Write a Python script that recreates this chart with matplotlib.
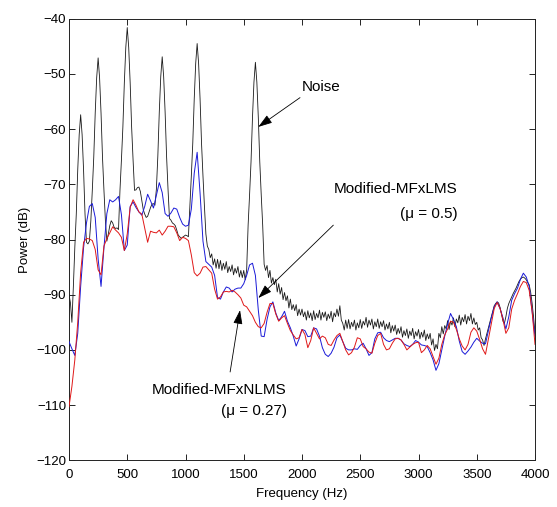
import numpy as np
import matplotlib
matplotlib.use("Agg")
import matplotlib.pyplot as plt

plt.rcParams['font.family'] = ['Liberation Sans', 'DejaVu Sans']

# ---------------- data ----------------
# Noise (black) spectrum, sampled every 12.5 Hz from 0 to 4000 Hz
noise_step = 12.5
noise_db = [
    -90.0, -91.5, -95.0, -88.5, -81.4, -75.4, -67.4, -61.0,      # 0
    -57.4, -61.0, -67.4, -75.4, -80.5, -80.8, -80.3, -76.6,      # 100
    -71.1, -65.1, -57.1, -50.7, -47.1, -50.7, -57.1, -65.1,      # 200
    -71.1, -76.6, -80.3, -79.0, -77.5, -76.6, -77.0, -77.8,      # 300
    -78.0, -77.9, -78.2, -71.1, -65.6, -59.6, -51.6, -45.2,      # 400
    -41.6, -45.2, -51.6, -59.6, -65.6, -71.1, -71.0, -70.6,      # 500
    -70.5, -71.3, -73.0, -74.6, -75.4, -76.0, -75.8, -75.0,      # 600
    -74.2, -73.6, -73.5, -73.8, -70.9, -64.9, -56.9, -50.5,      # 700
    -46.9, -50.5, -56.9, -64.9, -70.9, -76.2, -76.5, -77.0,      # 800
    -77.2, -77.5, -78.3, -79.2, -79.5, -79.8, -79.6, -79.4,      # 900
    -79.2, -79.3, -79.5, -74.0, -68.5, -62.5, -54.5, -48.1,      # 1000
    -44.5, -48.1, -54.5, -62.5, -68.5, -74.0, -79.0, -81.2,      # 1100
    -81.8, -83.3, -82.6, -84.6, -83.5, -85.2, -83.6, -85.3,      # 1200
    -83.8, -85.6, -84.3, -85.4, -84.0, -86.0, -84.9, -85.8,      # 1300
    -84.6, -86.4, -85.2, -86.1, -84.9, -86.8, -85.6, -86.9,      # 1400
    -85.6, -87.3, -85.5, -77.4, -71.9, -65.9, -57.9, -51.5,      # 1500
    -47.9, -51.5, -57.9, -65.9, -71.9, -77.4, -84.5, -85.6,      # 1600
    -84.7, -86.9, -85.6, -87.9, -86.9, -88.2, -87.2, -89.5,      # 1700
    -88.0, -89.9, -88.7, -90.9, -89.6, -91.1, -90.2, -92.4,      # 1800
    -90.8, -92.7, -91.8, -92.9, -91.8, -93.8, -92.6, -93.7,      # 1900
    -92.6, -94.0, -93.1, -94.6, -92.9, -94.2, -93.3, -94.7,      # 2000
    -92.9, -94.5, -93.4, -94.2, -92.8, -94.6, -93.2, -94.1,      # 2100
    -93.1, -94.7, -93.5, -94.3, -93.0, -94.9, -93.3, -94.0,      # 2200
    -92.6, -93.9, -92.0, -94.6, -95.2, -96.4, -94.6, -96.1,      # 2300
    -94.5, -96.2, -95.0, -95.8, -94.6, -96.4, -95.1, -96.0,      # 2400
    -94.5, -96.1, -94.8, -95.5, -94.1, -95.9, -94.6, -95.5,      # 2500
    -94.4, -96.2, -94.9, -95.8, -94.4, -96.1, -94.9, -95.8,      # 2600
    -94.7, -96.4, -95.3, -96.2, -95.0, -96.9, -95.6, -96.6,      # 2700
    -95.5, -97.2, -96.1, -97.0, -95.8, -97.7, -96.5, -97.4,      # 2800
    -96.2, -97.9, -96.6, -97.4, -96.1, -98.0, -96.7, -97.5,      # 2900
    -96.3, -98.0, -96.8, -97.7, -96.4, -98.3, -97.1, -98.0,      # 3000
    -97.0, -99.1, -98.0, -100.1, -99.0, -99.8, -97.0, -97.8,     # 3100
    -95.8, -97.1, -95.6, -96.2, -94.7, -96.3, -94.8, -95.5,      # 3200
    -94.2, -95.8, -94.4, -95.1, -93.7, -95.5, -94.1, -94.9,      # 3300
    -93.6, -95.3, -93.9, -94.7, -93.4, -95.3, -94.2, -95.4,      # 3400
    -95.0, -96.4, -96.0, -97.8, -98.2, -99.2, -98.0, -97.0,      # 3500
    -96.0, -95.0, -94.0, -93.0, -92.0, -91.6, -91.3, -91.5,      # 3600
    -92.3, -93.5, -94.8, -95.2, -94.0, -92.5, -91.6, -91.0,      # 3700
    -90.4, -89.8, -89.3, -88.8, -88.2, -87.6, -87.2, -86.9,      # 3800
    -86.8, -87.0, -87.3, -87.8, -88.2, -89.5, -91.5, -94.0,      # 3900
    -97.0,                                                       # 4000
]

# Controlled spectra (blue / red), sampled every 25 Hz from 0 to 4000 Hz
ctrl_step = 25.0
mfxlms_db = [
    -98.5, -99.8, -101.0, -97.0, -88.5, -81.5, -77.0, -74.0,     # 0
    -73.5, -76.0, -83.5, -88.5, -81.5, -75.3, -72.8, -73.2,      # 200
    -72.8, -72.2, -75.5, -82.0, -81.0, -74.0, -73.2, -74.2,      # 400
    -75.0, -75.6, -74.0, -71.8, -73.0, -74.3, -72.0, -69.7,      # 600
    -71.5, -75.3, -75.8, -75.2, -74.3, -74.5, -76.0, -77.2,      # 800
    -77.6, -77.4, -74.5, -68.0, -64.2, -71.6, -80.3, -84.0,      # 1000
    -84.5, -85.0, -86.5, -90.5, -90.8, -89.5, -88.6, -88.8,      # 1200
    -89.5, -89.0, -88.8, -88.8, -88.0, -86.5, -84.6, -84.3,      # 1400
    -86.5, -92.8, -97.5, -97.6, -94.5, -92.2, -91.3, -93.3,      # 1600
    -94.7, -94.0, -93.0, -94.8, -96.0, -97.5, -99.3, -98.0,      # 1800
    -96.3, -96.5, -97.6, -97.5, -96.0, -96.2, -97.5, -99.6,      # 2000
    -100.8, -101.2, -100.6, -99.5, -97.8, -97.3, -98.5, -99.7,   # 2200
    -100.0, -100.0, -99.8, -99.9, -99.2, -98.8, -99.8, -101.0,   # 2400
    -100.5, -98.0, -96.9, -96.8, -97.8, -98.3, -98.5, -98.2,     # 2600
    -97.9, -97.9, -98.2, -98.9, -99.2, -99.4, -99.0, -98.3,      # 2800
    -98.6, -99.1, -99.2, -99.4, -100.5, -101.8, -103.7, -102.5,  # 3000
    -100.0, -97.5, -95.3, -93.4, -94.5, -95.8, -98.4, -100.3,    # 3200
    -100.8, -100.2, -99.5, -98.6, -97.9, -98.4, -98.8, -98.9,    # 3400
    -96.5, -94.2, -92.2, -91.3, -92.5, -94.2, -96.2, -94.0,      # 3600
    -91.0, -89.8, -88.8, -87.2, -86.1, -86.8, -88.5, -93.0,      # 3800
    -97.5,                                                       # 4000
]
mfxnlms_db = [
    -110.3, -106.6, -101.8, -95.0, -86.0, -80.5, -79.8, -79.9,   # 0
    -80.2, -81.8, -85.5, -86.4, -81.2, -79.8, -78.8, -77.7,      # 200
    -78.3, -78.8, -79.6, -82.0, -79.0, -74.2, -72.8, -73.8,      # 400
    -75.0, -75.4, -78.0, -80.5, -78.5, -78.7, -78.8, -78.3,      # 600
    -79.2, -78.5, -77.6, -77.6, -77.7, -78.8, -80.2, -79.6,      # 800
    -79.8, -80.2, -82.8, -86.0, -86.6, -86.1, -85.0, -84.9,      # 1000
    -85.5, -86.1, -89.0, -90.8, -90.4, -89.5, -89.4, -89.5,      # 1200
    -89.2, -89.5, -90.0, -90.6, -91.9, -92.2, -93.0, -93.8,      # 1400
    -95.0, -95.8, -96.0, -95.2, -93.2, -91.6, -91.6, -93.5,      # 1600
    -94.8, -94.2, -93.8, -95.2, -96.5, -97.3, -98.0, -97.8,      # 1800
    -96.3, -97.2, -99.6, -98.3, -96.0, -97.0, -98.0, -97.5,      # 2000
    -97.8, -99.0, -99.2, -98.2, -97.4, -97.0, -98.5, -100.0,     # 2200
    -100.9, -100.5, -99.5, -97.8, -98.0, -99.4, -99.8, -100.4,   # 2400
    -100.6, -98.8, -97.4, -97.0, -99.0, -100.0, -99.8, -98.8,    # 2600
    -98.0, -97.9, -98.2, -99.0, -100.0, -99.5, -99.0, -98.7,     # 2800
    -98.6, -100.5, -100.0, -99.2, -99.8, -101.2, -102.6, -101.5, # 3000
    -99.0, -97.3, -96.2, -94.8, -95.0, -96.3, -98.0, -99.3,      # 3200
    -100.0, -99.0, -96.8, -96.0, -96.6, -98.1, -99.8, -100.8,    # 3400
    -98.0, -95.2, -92.5, -91.4, -92.5, -94.5, -97.0, -96.0,      # 3600
    -92.6, -91.0, -89.8, -88.5, -87.6, -87.8, -89.2, -93.0,      # 3800
    -99.0,                                                       # 4000
]

x_ticks = [0, 500, 1000, 1500, 2000, 2500, 3000, 3500, 4000]
y_ticks = [-120, -110, -100, -90, -80, -70, -60, -50, -40]

label_noise = "Noise"
label_lms = "Modified-MFxLMS"
label_lms_mu = "(\u03bc = 0.5)"
label_nlms = "Modified-MFxNLMS"
label_nlms_mu = "(\u03bc = 0.27)"

# ---------------- plot ----------------
f_noise = np.arange(len(noise_db)) * noise_step
f_ctrl = np.arange(len(mfxlms_db)) * ctrl_step

W, H = 557, 507
fig = plt.figure(figsize=(W / 100, H / 100), dpi=100)
ax = fig.add_axes([69 / W, 1 - 460.3 / H, (535 - 69) / W, (460.3 - 18.7) / H])

ax.plot(f_noise, noise_db, color='#1a1a1a', lw=0.6, zorder=2)
ax.plot(f_ctrl, mfxlms_db, color='#1a1ad8', lw=0.7, zorder=3)
ax.plot(f_ctrl, mfxnlms_db, color='#e01818', lw=0.7, zorder=4)

ax.set_xlim(0, 4000)
ax.set_ylim(-120, -40)
ax.set_xticks(x_ticks)
ax.set_yticks(y_ticks)
ax.tick_params(direction='in', length=4, width=0.6, top=True, right=True,
               labelsize=9.5, colors='black')
ax.tick_params(axis='x', pad=6)
ax.tick_params(axis='y', pad=2)
for s in ax.spines.values():
    s.set_linewidth(0.7)
    s.set_color('#222222')

ax.set_xlabel("Frequency (Hz)", fontsize=9.5, labelpad=5)
ax.set_ylabel("Power (dB)", fontsize=9.5, labelpad=4)

arrow = dict(arrowstyle='-|>,head_length=0.85,head_width=0.28', lw=0.6,
             color='black', shrinkA=0, shrinkB=0)

# Noise annotation
ax.text(1998, -52.4, label_noise, fontsize=11, ha='left', va='center')
ax.annotate('', xy=(1625, -59.6), xytext=(1983, -54.3), arrowprops=arrow)

# Modified-MFxLMS annotation
ax.text(3339, -70.85, label_lms, fontsize=11, ha='right', va='center')
ax.text(3339, -75.4, label_lms_mu, fontsize=11, ha='right', va='center')
ax.annotate('', xy=(1625, -90.6), xytext=(2269, -77.4), arrowprops=arrow)

# Modified-MFxNLMS annotation
ax.text(1871, -107.3, label_nlms, fontsize=11, ha='right', va='center')
ax.text(1871, -111.1, label_nlms_mu, fontsize=11, ha='right', va='center')
ax.annotate('', xy=(1468, -92.8), xytext=(1383, -104.0), arrowprops=arrow)

fig.savefig("out.png", dpi=100)
